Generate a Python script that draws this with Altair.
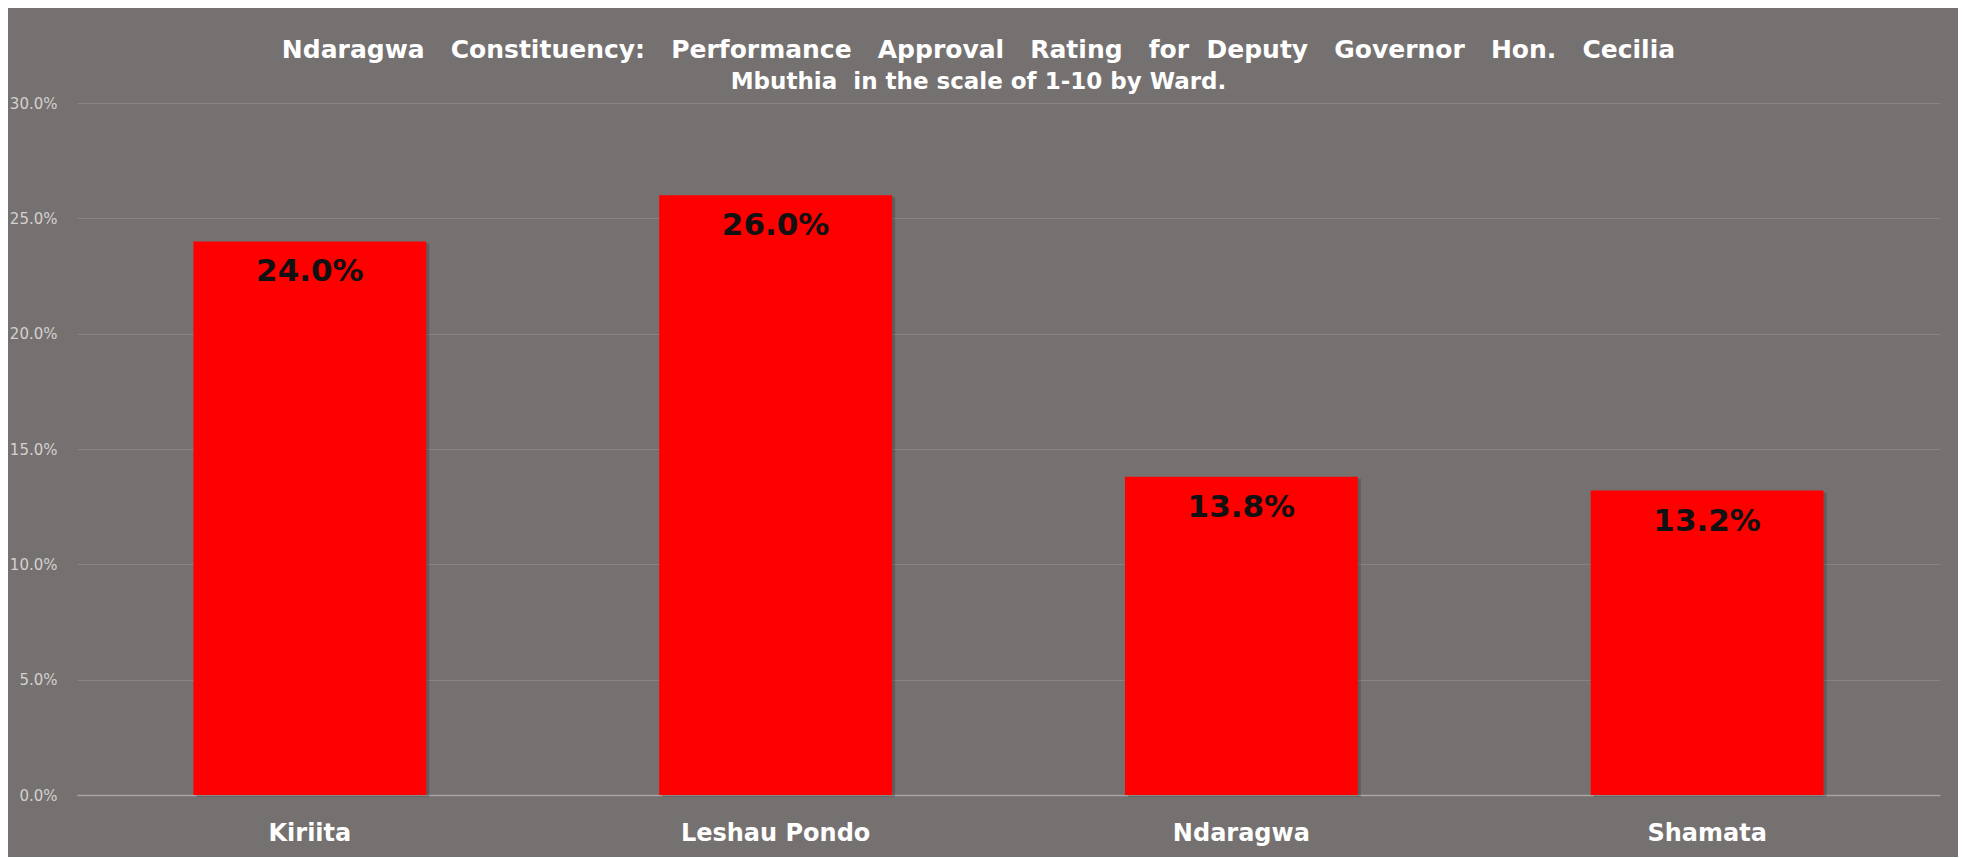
import altair as alt
import pandas as pd

wards = ["Kiriita", "Leshau Pondo", "Ndaragwa", "Shamata"]
ratings = [0.240, 0.260, 0.138, 0.132]
y_ticks = [0.0, 0.05, 0.10, 0.15, 0.20, 0.25, 0.30]
S3 = "\u00a0\u00a0\u00a0"
S2 = "\u00a0\u00a0"
title_line1 = S3.join(["Ndaragwa", "Constituency:", "Performance", "Approval", "Rating", "for"]) + S2 + S3.join(["Deputy", "Governor", "Hon.", "Cecilia"])
title_line2 = "Mbuthia" + S2 + " ".join(["in", "the", "scale", "of", "1-10", "by", "Ward."])

df = pd.DataFrame({"ward": wards, "rating": ratings})

BG = "#757170"

x = alt.X(
    "ward:N",
    sort=wards,
    title=None,
    scale=alt.Scale(paddingInner=0.5, paddingOuter=0.25),
    axis=alt.Axis(
        labelAngle=0,
        labelFont="DejaVu Sans",
        labelFontSize=24,
        labelFontWeight="bold",
        labelColor="#ffffff",
        labelBaseline="middle",
        labelPadding=38,
        labelLimit=0,
        ticks=False,
        tickSize=0,
        domain=True,
        domainColor="#a8a4a3",
        domainWidth=1.5,
        grid=False,
    ),
)
y = alt.Y(
    "rating:Q",
    title=None,
    scale=alt.Scale(domain=[0, 0.30], nice=False),
    axis=alt.Axis(
        values=y_ticks,
        format=".1%",
        labelFont="DejaVu Sans",
        labelFontSize=15,
        labelColor="#d4d0cf",
        labelPadding=20,
        ticks=False,
        tickSize=0,
        domain=False,
        grid=True,
        gridColor="#878382",
        gridWidth=1,
    ),
)

shadow = alt.Chart(df).mark_bar(color="#000000", opacity=0.18, xOffset=3, yOffset=2).encode(x=x, y=y)
bars = alt.Chart(df).mark_bar(color="#ff0000").encode(x=x, y=y)
labels = alt.Chart(df).mark_text(
    baseline="middle",
    dy=31,
    font="DejaVu Sans",
    fontSize=31,
    fontWeight="bold",
    color="#111111",
).encode(x=x, y=y, text=alt.Text("rating:Q", format=".1%"))

chart = (
    alt.layer(shadow, bars, labels)
    .properties(
        width=1863,
        height=692,
        autosize=alt.AutoSizeParams(type="none"),
        padding={"left": 69, "top": 95, "right": 18, "bottom": 62},
        background=BG,
        title=alt.TitleParams(
            text=title_line1,
            subtitle=title_line2,
            font="DejaVu Sans",
            fontSize=25,
            fontWeight="bold",
            color="#ffffff",
            subtitleFont="DejaVu Sans",
            subtitleFontSize=23,
            subtitleFontWeight="bold",
            subtitleColor="#ffffff",
            subtitlePadding=8,
            anchor="middle",
            dx=-30,
            offset=2,
        ),
    )
    .configure_view(stroke=None)
)

chart.save("out.html", embed_options={"renderer": "svg", "actions": False})
